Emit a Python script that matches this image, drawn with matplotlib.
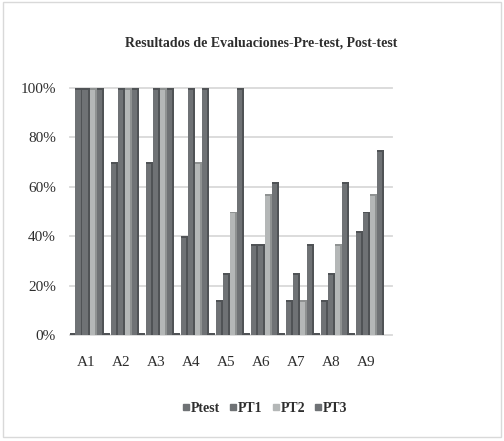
import matplotlib
matplotlib.use("Agg")
import matplotlib.pyplot as plt
import numpy as np
from matplotlib.patches import Rectangle
from matplotlib.lines import Line2D

# ---------------- data ----------------
categories = ["A1", "A2", "A3", "A4", "A5", "A6", "A7", "A8", "A9"]
blank = [0, 0, 0, 0, 0, 0, 0, 0, 0]          # empty series drawn as 3-D floor marks
ptest = [1.00, 0.70, 0.70, 0.40, 0.14, 0.37, 0.14, 0.14, 0.42]
pt1 = [1.00, 1.00, 1.00, 1.00, 0.25, 0.37, 0.25, 0.25, 0.50]
pt2 = [1.00, 1.00, 1.00, 0.70, 0.50, 0.57, 0.14, 0.37, 0.57]
pt3 = [1.00, 1.00, 1.00, 1.00, 1.00, 0.62, 0.37, 0.62, 0.75]
series_names = ["Ptest", "PT1", "PT2", "PT3"]
yticks = [0.0, 0.2, 0.4, 0.6, 0.8, 1.0]
ytick_labels = ["0%", "20%", "40%", "60%", "80%", "100%"]
title = "Resultados de Evaluaciones-Pre-test, Post-test"

# ---------------- style ----------------
SERIF = ["Liberation Serif", "DejaVu Serif"]
dark_face, dark_side = "#6f7275", "#505356"
light_face, light_side = "#b4b7b7", "#8f9292"
grid_c = "#d9d9d9"
text_c = "#2e2e2e"

fig = plt.figure(figsize=(5.04, 4.41), dpi=100)
fig.patch.set_facecolor("white")
fig.patches.append(Rectangle((0.006, 0.008), 0.988, 0.987, transform=fig.transFigure,
                             fill=False, edgecolor=grid_c, linewidth=1.0))

ax = fig.add_axes([70 / 504, 1 - 335 / 441, (392 - 70) / 504, (335 - 88) / 441])
ax.set_xlim(-0.457, 8.74)
ax.set_ylim(0, 1.0)

x = np.arange(len(categories))
slot = 0.2
depth = 0.04
cap = 0.008

# gridlines
for t in yticks:
    ax.axhline(t, color=grid_c, linewidth=1.3, zorder=0, clip_on=False)

# zero-height floor marks of the empty series
ax.bar(x - 2 * slot, [v + 0.008 for v in blank], width=slot * 0.8, color=dark_side,
       linewidth=0, zorder=2)

series = [ptest, pt1, pt2, pt3]
faces = [dark_face, dark_face, light_face, dark_face]
sides = [dark_side, dark_side, light_side, dark_side]
for k, (vals, fc, sc) in enumerate(zip(series, faces, sides)):
    pos = x + (k - 1) * slot
    vals = np.array(vals)
    ax.bar(pos, vals, width=slot, color=fc, linewidth=0, zorder=3)
    # right side face
    ax.bar(pos + slot / 2 - depth / 2, vals, width=depth, color=sc, linewidth=0, zorder=4)
    # top cap
    ax.bar(pos, np.full_like(vals, cap), bottom=vals - cap, width=slot, color=sc,
           linewidth=0, zorder=4)

for s in ax.spines.values():
    s.set_visible(False)
ax.set_yticks(yticks)
ax.set_yticklabels(ytick_labels, fontfamily=SERIF, fontsize=11, color=text_c)
ax.set_xticks(x)
ax.set_xticklabels(categories, fontfamily=SERIF, fontsize=11, color=text_c)
ax.tick_params(axis="y", length=0, pad=10)
ax.tick_params(axis="x", length=0, pad=15)

fig.text(261 / 504, 1 - 43 / 441, title, ha="center", va="center",
         fontfamily=SERIF, fontweight="bold", fontsize=10, color=text_c)

handles = [Line2D([], [], marker="s", linestyle="", markersize=5, color=c) for c in faces]
leg = fig.legend(handles, series_names, loc="center", bbox_to_anchor=(265 / 504, 1 - 408 / 441),
                 ncol=4, frameon=False, handlelength=0.5, handletextpad=0.1,
                 columnspacing=0.7, prop={"family": SERIF, "weight": "bold", "size": 10})
for t in leg.get_texts():
    t.set_color(text_c)

fig.savefig("out.png", dpi=100, facecolor="white")
